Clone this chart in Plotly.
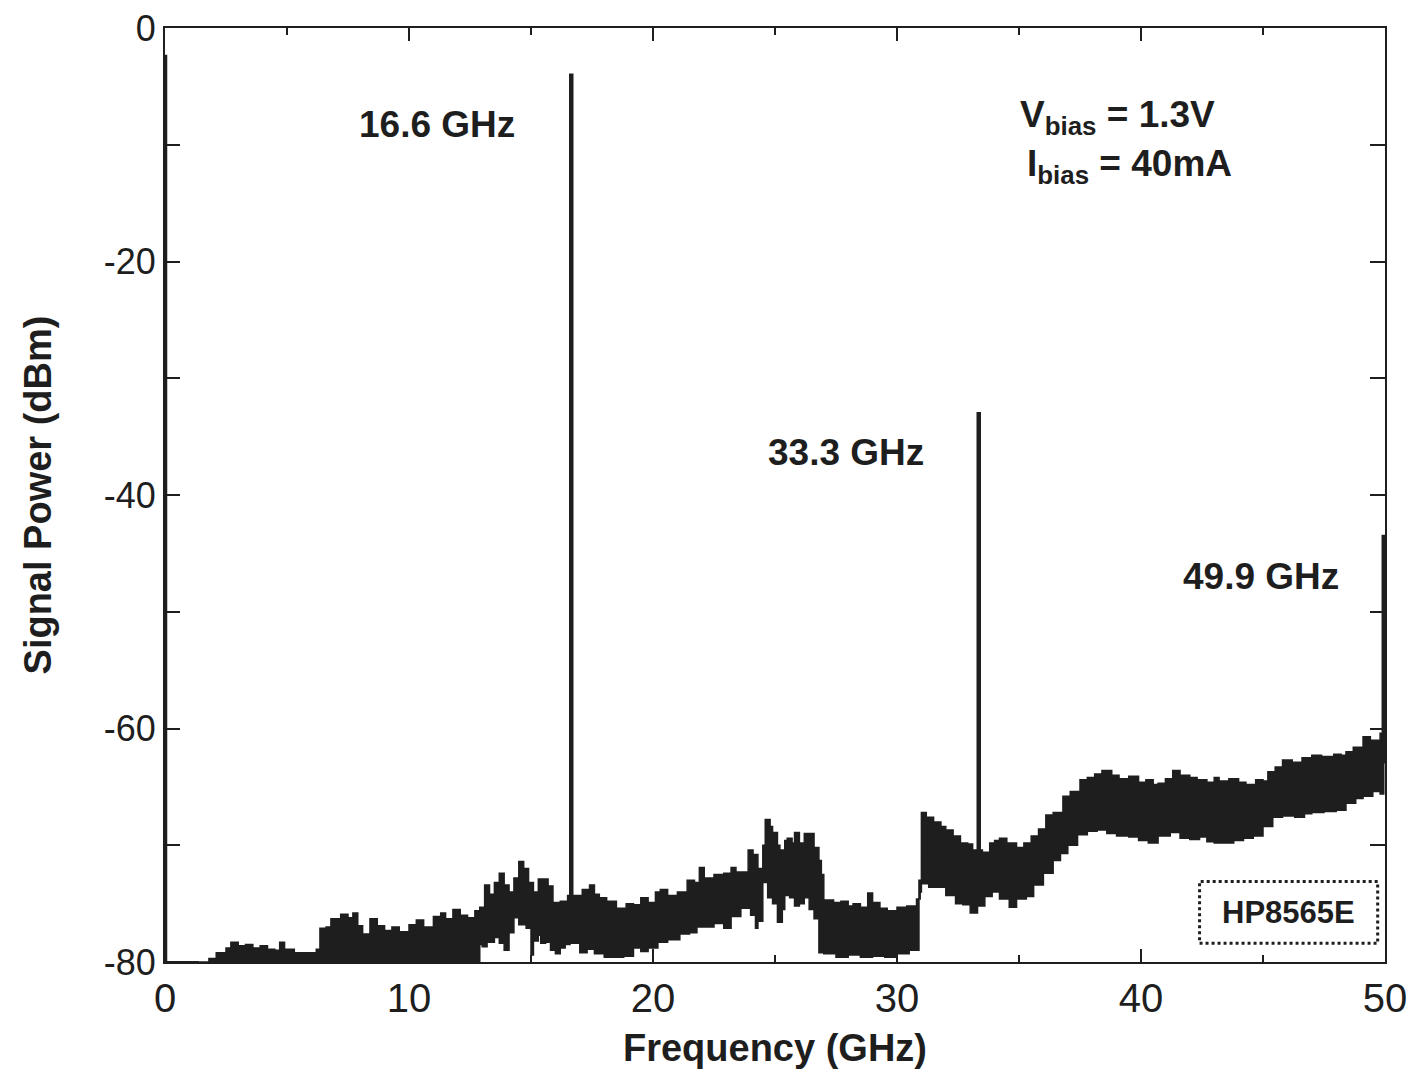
import plotly.graph_objects as go

# ---- data ----
upper_f = [1.4, 1.8, 2.1, 2.5, 2.7, 3.0, 3.3, 3.6, 3.9, 4.2, 4.5, 4.7, 4.9, 5.3, 5.9, 6.2, 6.35, 6.6, 6.8, 7.2,
           7.5, 7.7, 7.9, 8.1, 8.4, 8.7, 9.0, 9.3, 9.6, 10.0, 10.3, 10.6, 11.0, 11.3, 11.5, 11.8, 12.1, 12.4, 12.7, 12.9,
           13.1, 13.3, 13.5, 13.7, 13.9, 14.1, 14.3, 14.5, 14.7, 14.9, 15.1, 15.3, 15.5, 15.7, 15.9, 16.2, 16.5, 16.9, 17.1, 17.4,
           17.6, 17.8, 18.1, 18.5, 18.9, 19.2, 19.5, 19.8, 20.1, 20.3, 20.6, 21.0, 21.4, 21.7, 21.9, 22.1, 22.5, 22.9, 23.2, 23.4,
           23.7, 23.9, 24.1, 24.3, 24.5, 24.6, 24.8, 24.9, 25.1, 25.2, 25.4, 25.5, 25.7, 25.8, 26.0, 26.2, 26.4, 26.6, 26.8, 26.9,
           27.0, 27.4, 27.7, 28.0, 28.2, 28.5, 28.8, 29.0, 29.3, 29.6, 30.0, 30.4, 30.8, 30.95, 31.0, 31.2, 31.5, 31.8, 32.0, 32.3,
           32.6, 32.9, 33.1, 33.5, 33.8, 34.0, 34.2, 34.5, 34.9, 35.2, 35.5, 35.8, 36.1, 36.4, 36.8, 37.1, 37.5, 37.8, 38.1, 38.4,
           38.8, 39.1, 39.5, 39.9, 40.2, 40.5, 40.7, 41.0, 41.3, 41.6, 42.0, 42.3, 42.7, 43.0, 43.2, 43.6, 44.0, 44.3, 44.7, 45.0,
           45.2, 45.5, 45.8, 46.2, 46.6, 47.0, 47.4, 47.9, 48.2, 48.4, 48.7, 49.1, 49.4, 49.8, 49.95]
upper_p = [-80, -79.7, -79.2, -78.8, -78.3, -78.6, -78.5, -78.8, -78.6, -78.9, -79.0, -78.3, -78.9, -79.2, -79.2, -78.9, -77.1, -77.0, -76.3, -75.9,
           -76.2, -75.8, -76.9, -77.6, -76.3, -76.9, -77.3, -77.0, -77.4, -76.8, -76.4, -77.0, -76.1, -75.8, -76.3, -75.5, -76.0, -76.2, -75.6, -75.3,
           -73.4, -74.2, -73.2, -72.4, -73.4, -74.0, -72.8, -71.4, -72.0, -73.2, -74.0, -72.9, -72.9, -73.5, -74.9, -74.8, -74.3, -74.3, -73.8, -73.4,
           -74.2, -74.5, -74.8, -75.4, -75.0, -75.1, -74.5, -74.9, -74.0, -73.8, -74.3, -74.0, -73.0, -73.2, -71.9, -72.8, -72.5, -72.4, -71.9, -72.3,
           -72.3, -70.4, -70.8, -72.0, -70.0, -67.8, -68.4, -68.9, -70.0, -70.4, -69.6, -69.4, -69.8, -68.9, -69.8, -69.0, -69.0, -70.2, -71.3, -72.5,
           -74.7, -74.9, -74.8, -75.2, -75.0, -75.3, -74.1, -74.9, -75.4, -75.6, -75.3, -75.2, -74.6, -74.0, -67.2, -67.6, -68.0, -68.4, -68.7, -69.2,
           -69.8, -69.9, -70.4, -70.6, -69.8, -69.6, -69.4, -69.8, -70.2, -69.8, -69.2, -68.6, -67.4, -67.2, -65.8, -65.4, -64.4, -64.2, -63.9, -63.6,
           -64.0, -64.3, -64.1, -64.6, -64.4, -64.8, -64.7, -64.3, -63.6, -64.0, -64.2, -64.4, -64.6, -64.2, -64.5, -64.3, -64.6, -64.8, -64.4, -64.5,
           -63.7, -63.3, -62.7, -62.9, -62.5, -62.3, -62.4, -62.2, -62.3, -62.0, -61.6, -60.7, -61.0, -60.4, -60.8]

lower_f = [1.4, 12.9, 13.0, 13.2, 13.5, 13.7, 13.9, 14.1, 14.3, 14.5, 14.8, 15.0, 15.1, 15.3, 15.4, 15.6, 15.8, 16.0, 16.2, 16.4,
           16.6, 17.0, 17.3, 17.6, 18.0, 18.4, 18.8, 19.2, 19.5, 19.8, 20.2, 20.6, 21.1, 21.5, 21.8, 22.2, 22.5, 22.9, 23.2, 23.6,
           24.0, 24.2, 24.3, 24.5, 24.7, 24.9, 25.1, 25.3, 25.4, 25.6, 25.8, 26.0, 26.2, 26.4, 26.6, 26.8, 27.0, 27.5, 28.0, 28.5,
           29.0, 29.5, 30.0, 30.5, 30.9, 31.0, 31.3, 31.7, 32.0, 32.4, 32.7, 33.0, 33.3, 33.6, 33.9, 34.2, 34.6, 34.9, 35.3, 35.6,
           36.0, 36.4, 36.7, 37.0, 37.4, 37.8, 38.2, 38.6, 39.0, 39.5, 39.9, 40.3, 40.7, 41.2, 41.6, 42.0, 42.4, 42.7, 43.0, 43.4,
           43.8, 44.2, 44.6, 45.0, 45.4, 45.8, 46.3, 46.7, 47.0, 47.5, 48.0, 48.4, 48.8, 49.1, 49.5, 49.8, 49.95]
lower_p = [-80, -80, -78.5, -78.7, -78.3, -77.9, -78.4, -79.0, -77.5, -76.2, -76.8, -77.1, -79.4, -78.2, -77.7, -78.4, -78.3, -79.0, -79.3, -78.8,
           -78.5, -78.4, -79.2, -78.9, -79.3, -79.6, -79.6, -79.5, -78.8, -79.1, -78.8, -78.3, -78.1, -77.6, -77.5, -77.0, -77.0, -76.7, -77.1, -76.1,
           -75.4, -76.0, -77.1, -76.5, -73.2, -74.5, -75.0, -76.6, -75.5, -74.3, -74.5, -75.2, -75.0, -74.5, -75.5, -76.3, -79.2, -79.3, -79.6, -79.4,
           -79.6, -79.5, -79.6, -79.3, -79.0, -73.0, -73.3, -73.6, -73.6, -74.3, -75.0, -75.1, -75.8, -75.2, -74.4, -74.0, -74.6, -75.3, -74.6, -74.4,
           -73.4, -72.4, -71.3, -70.7, -70.0, -69.1, -68.8, -68.7, -69.0, -69.2, -69.3, -69.6, -69.8, -69.2, -68.9, -69.4, -69.5, -69.3, -69.7, -69.8,
           -69.8, -69.6, -69.4, -69.2, -68.4, -67.6, -67.5, -67.6, -67.3, -67.2, -67.1, -67.0, -66.4, -66.0, -65.8, -65.4, -65.6]

peak_f = [0.0, 16.65, 33.35, 49.95]
peak_p = [-2.3, -3.9, -32.9, -43.4]
peak_base = [-80, -76, -72, -63]
peak_labels = ["16.6 GHz", "33.3 GHz", "49.9 GHz"]
label_x = [11.15, 27.9, 44.9]
label_y = [-8.3, -36.4, -47.0]

x_ticks = [0, 10, 20, 30, 40, 50]
x_tick_text = ["0", "10", "20", "30", "40", "50"]
y_ticks = [0, -20, -40, -60, -80]
y_tick_text = ["0", "-20", "-40", "-60", "-80"]

FONT = "Liberation Sans, Arial, Helvetica, sans-serif"
INK = "#1e1e1e"

fig = go.Figure()

# noise band as filled polygon
fig.add_trace(go.Scatter(
    x=upper_f + lower_f[::-1], y=upper_p + lower_p[::-1],
    mode="lines", fill="toself", fillcolor=INK,
    line=dict(color=INK, width=1.5, shape="hv"),
    hoverinfo="skip", showlegend=False))

# baseline trace from 0 to start of band
fig.add_trace(go.Scatter(x=[0, 1.4], y=[-80, -80], mode="lines",
                         line=dict(color=INK, width=2), showlegend=False))

# spectral peaks
for f, p, b in zip(peak_f, peak_p, peak_base):
    fig.add_trace(go.Scatter(x=[f, f], y=[b, p], mode="lines",
                             line=dict(color=INK, width=4.5), showlegend=False))

for t, x, y in zip(peak_labels, label_x, label_y):
    fig.add_annotation(x=x, y=y, text=f"<b>{t}</b>", showarrow=False,
                       font=dict(family=FONT, size=37, color=INK))

fig.add_annotation(x=34.95, y=-7.6, xanchor="left", showarrow=False,
                   text="<b>V<sub>bias</sub> = 1.3V</b>",
                   font=dict(family=FONT, size=37, color=INK))
fig.add_annotation(x=35.25, y=-11.8, xanchor="left", showarrow=False,
                   text="<b>I<sub>bias</sub> = 40mA</b>",
                   font=dict(family=FONT, size=37, color=INK))

# instrument box
fig.add_shape(type="rect", x0=42.4, x1=49.7, y0=-78.4, y1=-73.1,
              line=dict(color=INK, width=3, dash="dot"))
fig.add_annotation(x=46.05, y=-75.8, text="<b>HP8565E</b>", showarrow=False,
                   font=dict(family=FONT, size=31, color=INK))

fig.update_xaxes(range=[0, 50], tickvals=x_ticks, ticktext=x_tick_text, ticks="inside",
                 ticklen=13, tickwidth=1.5, automargin=False, ticklabeloverflow="allow",
                 minor=dict(dtick=5, ticks="inside", ticklen=7, tickwidth=1.5, tickcolor=INK),
                 showline=True, linecolor=INK, linewidth=2, mirror="ticks",
                 showgrid=False, zeroline=False, tickcolor=INK,
                 tickfont=dict(family=FONT, size=40, color=INK),
                 title=dict(text="<b>Frequency (GHz)</b>", standoff=15,
                            font=dict(family=FONT, size=38, color=INK)))
fig.update_yaxes(range=[-80, 0], tickvals=y_ticks, ticktext=y_tick_text, ticks="inside",
                 ticklen=15, tickwidth=1.5, automargin=False, ticklabeloverflow="allow",
                 minor=dict(dtick=10, ticks="inside", ticklen=15, tickwidth=1.5, tickcolor=INK),
                 showline=True, linecolor=INK, linewidth=2, mirror="ticks",
                 showgrid=False, zeroline=False, tickcolor=INK,
                 tickfont=dict(family=FONT, size=36, color=INK),
                 title=dict(text="<b>Signal Power (dBm)</b>", standoff=40,
                            font=dict(family=FONT, size=38, color=INK)))

fig.update_layout(width=1400, height=1070, plot_bgcolor="white", paper_bgcolor="white",
                  margin=dict(l=157, r=23, t=20, b=116), showlegend=False)

fig.write_html("out.html")
